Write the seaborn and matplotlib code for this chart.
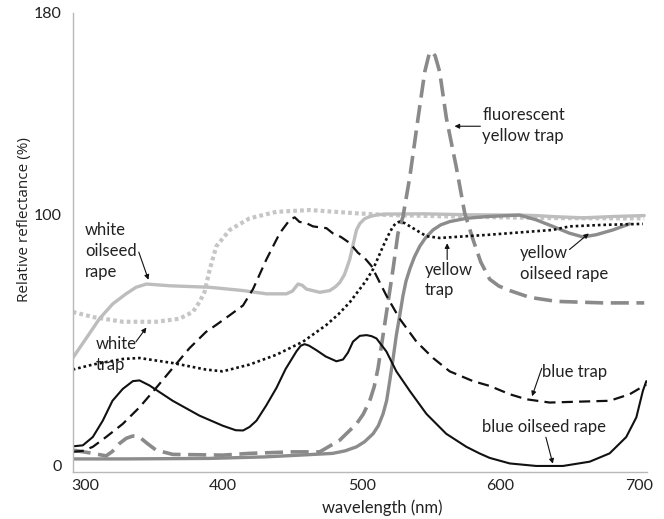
import matplotlib
matplotlib.use("Agg")
import matplotlib.pyplot as plt
import seaborn as sns
import pandas as pd

# ---------------- data ----------------
blue_rape_wl = [291.5, 298.6, 305.8, 313, 320, 327.4, 334.7, 339.5, 346.7, 363.5, 382.8, 399.6, 409, 414.3, 419,
                424, 431, 438.4, 445, 452.8, 456, 458.8, 462, 467.3, 474, 481.7, 486.5, 490, 493.7, 498.6, 503.4,
                507, 510.6, 517.8, 525, 534.7, 546.7, 561, 575.6, 585, 592.4, 606.9, 626, 645.3, 664.6, 679, 691,
                698.3, 703, 705.5]
blue_rape_r = [7.8, 8.2, 11.5, 18, 25.9, 30.6, 33.7, 34, 32, 25.9, 20, 16, 14.2, 14.1, 15.5,
               18, 24, 31, 38.5, 45.5, 47.8, 48.4, 47.8, 46, 43.5, 41.6, 42.3, 45, 49.4, 51.7, 52,
               51.6, 50.7, 45.5, 37.6, 29.8, 20.7, 12.8, 7.6, 5, 3.2, 1, 0, 0, 1.7, 5, 11.5,
               19.3, 29.8, 33.7]

blue_trap_wl = [291.3, 298.6, 305.8, 315.4, 327.4, 339.5, 351.5, 363.5, 375.6, 387.6, 394.8, 404.7, 414.3, 421.5,
                431.1, 440.8, 448, 451.6, 455, 460, 464.8, 474.5, 479, 485, 491.3, 497.3, 502, 507, 517.8, 527.4,
                539.5, 551.5, 563.5, 580.4, 592.4, 606.9, 618.9, 635.7, 659.8, 679, 693.5, 705.5]
blue_trap_r = [5.6, 6, 7.6, 11.5, 16.7, 23.3, 31, 38.9, 46.8, 53.3, 56, 59.9, 63.8, 70.3,
               82, 92.5, 97.8, 98.8, 97, 96.5, 95.2, 94.5, 92.5, 91, 88.6, 84.7, 82.7, 79.5, 67.7, 58.5,
               49.4, 42.9, 37.6, 33.7, 31.8, 28.5, 26.5, 25.2, 25.6, 25.9, 28.5, 32.4]

white_trap_wl = [291.3, 305.8, 327.4, 351.5, 368.3, 378, 382.8, 386.4, 390.3, 395, 404.7, 419, 438.4, 462.5,
                 496.2, 520, 560, 600, 640, 680, 704]
white_trap_r = [61.2, 59.2, 57.3, 57.3, 58.5, 61.2, 65.1, 69, 78.2, 87.3, 93.8, 98.4, 101, 101.7,
                100.4, 99.7, 99.2, 98.8, 98.5, 98.4, 98.4]

white_rape_wl = [291.3, 301, 310.6, 320.2, 329.8, 337, 344.5, 361.4, 390.3, 414.3, 431.2, 445.6, 450, 454, 457,
                 460, 469.7, 476.9, 481, 484.1, 487.5, 491.3, 494, 496.2, 498.6, 502, 505.8, 511, 517.8, 545,
                 578, 614, 626, 638, 660, 680, 704]
white_rape_r = [42.9, 50.7, 58.5, 64.4, 68.4, 71, 72.3, 71.6, 71, 69.7, 68.4, 68.4, 69.5, 72.3, 71.8,
                70.3, 69, 69.7, 71.2, 72.9, 76, 82, 88.5, 93.8, 96.3, 98.2, 99.1, 99.8, 100.1, 100.2,
                99.8, 99.7, 99.5, 99.1, 98.6, 99.1, 99.5]

yellow_trap_wl = [291.3, 305.8, 327.4, 339.5, 363.5, 387.6, 399.6, 404.7, 419, 438.4, 457.6, 474.4, 483, 491.3,
                  498.6, 503, 508.2, 512, 515.4, 519, 522.6, 525, 527.4, 531, 537, 546.7, 556.3, 575.5, 590, 614,
                  638, 650, 674, 703]
yellow_trap_r = [38.3, 40.3, 42.5, 42.9, 40.9, 38.3, 37.6, 38.3, 40.3, 44.2, 49.4, 56, 60.2, 65,
                 70.3, 73.5, 78.2, 83, 87.3, 91.5, 95.2, 96.6, 97.1, 96.5, 94.5, 91.3, 90.6, 91.3, 91.8, 92.8,
                 93.8, 95.2, 95.8, 96.2]

yellow_rape_wl = [291.3, 330, 390, 430, 455.2, 479, 488, 496.2, 502, 508.2, 512, 515.4, 518, 520.2, 522.6, 525,
                  527.5, 529.8, 532, 534.7, 538, 541.9, 546, 551.5, 557, 563.5, 575.5, 590, 614, 626, 638, 650,
                  659.8, 669.4, 681.4, 693.5]
yellow_rape_r = [2.8, 2.8, 3, 3.6, 4.3, 5, 6, 7.6, 9.6, 12.8, 16, 20.7, 26, 33.7, 42.5, 52,
                 60, 67.7, 73.5, 78.2, 83, 87.3, 90.6, 93.8, 95.8, 97.1, 98.4, 99.1, 99.7, 97.8, 95.2, 92.5,
                 91, 91.9, 93.8, 96.2]

fluo_trap_wl = [291.3, 305.8, 315.4, 320, 325, 330, 334.7, 339.5, 345, 351.5, 363.5, 399.6, 419, 450, 469.7,
                484, 491.3, 496.2, 501, 505.8, 509, 511.8, 515.4, 519, 522.6, 526.2, 529.8, 534.7, 540.7, 545.5,
                547.9, 549, 551, 553, 556.3, 561.1, 568.3, 574.4, 580.4, 586, 592.4, 599, 606.9, 621.3, 640.6,
                674.2, 704]
fluo_trap_r = [6.3, 5, 4, 5.8, 8.9, 11, 11.9, 11.5, 9, 6.3, 4.6, 4.3, 5, 5.6, 5.6,
               10.2, 14.1, 16.7, 20.5, 25.9, 31.5, 38.9, 52, 65, 78.2, 92.5, 99.1, 114.8, 138.3, 156.6,
               162, 164.4, 164.4, 163, 156.6, 138.3, 118.7, 100.4, 89.9, 81, 74.2, 71.5, 69.7, 67, 65.4,
               64.8, 64.8]

x_ticks = [300, 400, 500, 600, 700]
y_ticks = [0, 100, 180]

# ---------------- styling ----------------
sns.set_style("white")
plt.rcParams["font.family"] = ["Lato", "DejaVu Sans"]

fig = plt.figure(figsize=(6.64, 5.19), dpi=100)
ax = fig.add_axes([73 / 664, 1 - 472 / 519, 574 / 664, 459 / 519])

series = [
    (white_trap_wl, white_trap_r, "#c6c6c6", 3.0, (0, (0.9, 0.75)), "butt"),
    (white_rape_wl, white_rape_r, "#bdbdbd", 2.4, "-", "round"),
    (yellow_rape_wl, yellow_rape_r, "#8c8c8c", 2.4, "-", "round"),
    (fluo_trap_wl, fluo_trap_r, "#8a8a8a", 2.6, (0, (5.0, 2.1)), "butt"),
    (blue_trap_wl, blue_trap_r, "#111111", 1.6, (0, (5.0, 2.8)), "butt"),
    (yellow_trap_wl, yellow_trap_r, "#111111", 1.9, (0, (1.0, 1.1)), "butt"),
    (blue_rape_wl, blue_rape_r, "#111111", 1.5, "-", "round"),
]

for wl, r, col, lw, ls, cap in series:
    df = pd.DataFrame({"wavelength": wl, "reflectance": r})
    sns.lineplot(data=df, x="wavelength", y="reflectance", ax=ax, color=col, lw=lw,
                 linestyle=ls, estimator=None, sort=False, solid_capstyle=cap,
                 dash_capstyle=cap, solid_joinstyle="round", dash_joinstyle="round")

ax.set_xlim(291.5, 706)
ax.set_ylim(-2.4, 180)
ax.set_xticks(x_ticks)
ax.set_yticks(y_ticks)
ax.tick_params(axis="both", length=0, labelsize=11.5, colors="#222222")
ax.tick_params(axis="x", pad=5)
ax.tick_params(axis="y", pad=8)

for s in ["top", "right"]:
    ax.spines[s].set_visible(False)
for s in ["left", "bottom"]:
    ax.spines[s].set_color("#b8b8b8")
    ax.spines[s].set_linewidth(1.0)

ax.set_xlabel("wavelength (nm)", fontsize=12, color="#222222")
ax.set_ylabel("Relative reflectance (%)", fontsize=11, color="#222222", family=["Open Sans", "DejaVu Sans"])
ax.xaxis.set_label_coords(0.538, -0.078)
ax.yaxis.set_label_coords(-0.084, 0.551)
ax.xaxis.label.set_va("center")
ax.yaxis.label.set_va("center")

# ---------------- annotations ----------------
txt_kw = dict(fontsize=12, color="#222222", ha="left", va="center", linespacing=1.38)
arrow_kw = dict(arrowstyle="-|>", lw=0.8, color="#111111", mutation_scale=7,
                shrinkA=0, shrinkB=0)

labels = [
    ("white\noilseed\nrape", (300, 85.4), (339, 85), (346, 74)),
    ("white\ntrap", (307.7, 44.4), (336.9, 49.3), (344.5, 55)),
    ("yellow\ntrap", (545.8, 73.9), (561.7, 82), (561.7, 88.5)),
    ("yellow\noilseed rape", (614, 80.4), (650, 86), (664, 92.4)),
    ("fluorescent\nyellow trap", (587, 135.2), (585.7, 135), (567, 135)),
    ("blue trap", (630.5, 37.5), (630, 38.8), (623, 27.7)),
    ("blue oilseed rape", (587, 15.3), (633, 11.4), (638, 0.9)),
]
for text, pos, tail, head in labels:
    ax.text(pos[0], pos[1], text, **txt_kw)
    ax.annotate("", xy=head, xytext=tail, arrowprops=arrow_kw)

fig.savefig("out.png", dpi=100)
